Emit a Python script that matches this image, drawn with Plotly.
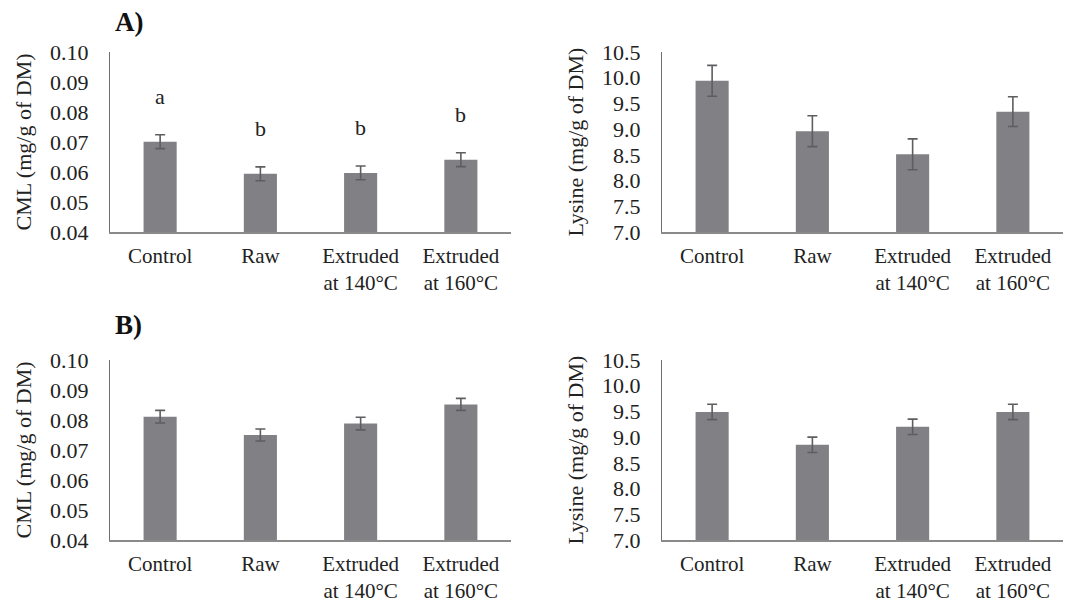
import plotly.graph_objects as go

categories = ["Control", "Raw", "Extruded<br>at 140°C", "Extruded<br>at 160°C"]

cml_a = [0.0701, 0.0594, 0.0597, 0.0641]
cml_a_err = [0.0023, 0.0023, 0.0023, 0.0023]
cml_a_letters = ["a", "b", "b", "b"]

lys_a = [9.94, 8.96, 8.51, 9.34]
lys_a_err = [0.30, 0.30, 0.30, 0.29]

cml_b = [0.0811, 0.0750, 0.0788, 0.0852]
cml_b_err = [0.0021, 0.0020, 0.0021, 0.0020]

lys_b = [9.49, 8.85, 9.20, 9.49]
lys_b_err = [0.15, 0.15, 0.15, 0.15]

cml_ticks = [0.04, 0.05, 0.06, 0.07, 0.08, 0.09, 0.10]
lys_ticks = [7.0, 7.5, 8.0, 8.5, 9.0, 9.5, 10.0, 10.5]

BAR = "#818185"
ERR = "#5e5e62"
FONT = "'Liberation Serif', 'Times New Roman', 'DejaVu Serif', serif"
FS = 22
W, H = 1065, 602

fig = go.Figure()

def add_bars(vals, errs, xa, ya):
    fig.add_trace(go.Bar(
        x=categories, y=vals, xaxis=xa, yaxis=ya,
        marker=dict(color=BAR, line=dict(width=0)),
        error_y=dict(type="data", array=errs, visible=True, color=ERR,
                     thickness=1.6, width=5),
        showlegend=False, hoverinfo="skip",
    ))

add_bars(cml_a, cml_a_err, "x", "y")
add_bars(lys_a, lys_a_err, "x2", "y2")
add_bars(cml_b, cml_b_err, "x3", "y3")
add_bars(lys_b, lys_b_err, "x4", "y4")

def px_x(a, b):
    return [a / W, b / W]

def px_y(top, bottom):
    return [(H - bottom) / H, (H - top) / H]

xdom_l = px_x(110, 511)
xdom_r = px_x(662, 1063)
ydom_t = px_y(52, 232)
ydom_b = px_y(360, 540)

xcommon = dict(type="category", showline=True, linecolor="#8a8a8a", linewidth=1.6,
               ticks="", showgrid=False, zeroline=False, automargin=False,
               ticklabelstandoff=4,
               tickfont=dict(family=FONT, size=21, color="#222222"),
               fixedrange=True)
ycommon = dict(showline=True, linecolor="#6f6f6f", linewidth=1, ticks="outside",
               ticklen=16, tickcolor="rgba(0,0,0,0)", showgrid=False, zeroline=False,
               automargin=False,
               tickfont=dict(family=FONT, size=FS, color="#222222"),
               fixedrange=True)

cml_title = dict(text="CML (mg/g of DM)", font=dict(family=FONT, size=FS, color="#222222"), standoff=12)
lys_title = dict(text="Lysine (mg/g of DM)", font=dict(family=FONT, size=FS, color="#222222"), standoff=12)

fig.update_layout(
    width=W, height=H,
    margin=dict(l=0, r=0, t=0, b=0),
    paper_bgcolor="white", plot_bgcolor="white",
    bargap=0.67,
    font=dict(family=FONT, color="#222222"),
    xaxis=dict(domain=xdom_l, anchor="y", **xcommon),
    yaxis=dict(domain=ydom_t, anchor="x", range=[0.04, 0.10], tickvals=cml_ticks,
               tickformat=".2f", title=cml_title, **ycommon),
    xaxis2=dict(domain=xdom_r, anchor="y2", **xcommon),
    yaxis2=dict(domain=ydom_t, anchor="x2", range=[7.0, 10.5], tickvals=lys_ticks,
                tickformat=".1f", title=lys_title, **ycommon),
    xaxis3=dict(domain=xdom_l, anchor="y3", **xcommon),
    yaxis3=dict(domain=ydom_b, anchor="x3", range=[0.04, 0.10], tickvals=cml_ticks,
                tickformat=".2f", title=cml_title, **ycommon),
    xaxis4=dict(domain=xdom_r, anchor="y4", **xcommon),
    yaxis4=dict(domain=ydom_b, anchor="x4", range=[7.0, 10.5], tickvals=lys_ticks,
                tickformat=".1f", title=lys_title, **ycommon),
)

# significance letters
for cat, v, e, letter in zip(categories, cml_a, cml_a_err, cml_a_letters):
    fig.add_annotation(x=cat, y=v + e, xref="x", yref="y", text=letter,
                       showarrow=False, yanchor="bottom", yshift=24,
                       font=dict(family=FONT, size=FS, color="#222222"))

# panel labels
fig.add_annotation(x=113 / W, y=(H - 22) / H, xref="paper", yref="paper", text="<b>A)</b>",
                   showarrow=False, xanchor="left", yanchor="middle",
                   font=dict(family=FONT, size=27, color="#111111"))
fig.add_annotation(x=113 / W, y=(H - 325) / H, xref="paper", yref="paper", text="<b>B)</b>",
                   showarrow=False, xanchor="left", yanchor="middle",
                   font=dict(family=FONT, size=27, color="#111111"))

fig.write_html("out.html")
